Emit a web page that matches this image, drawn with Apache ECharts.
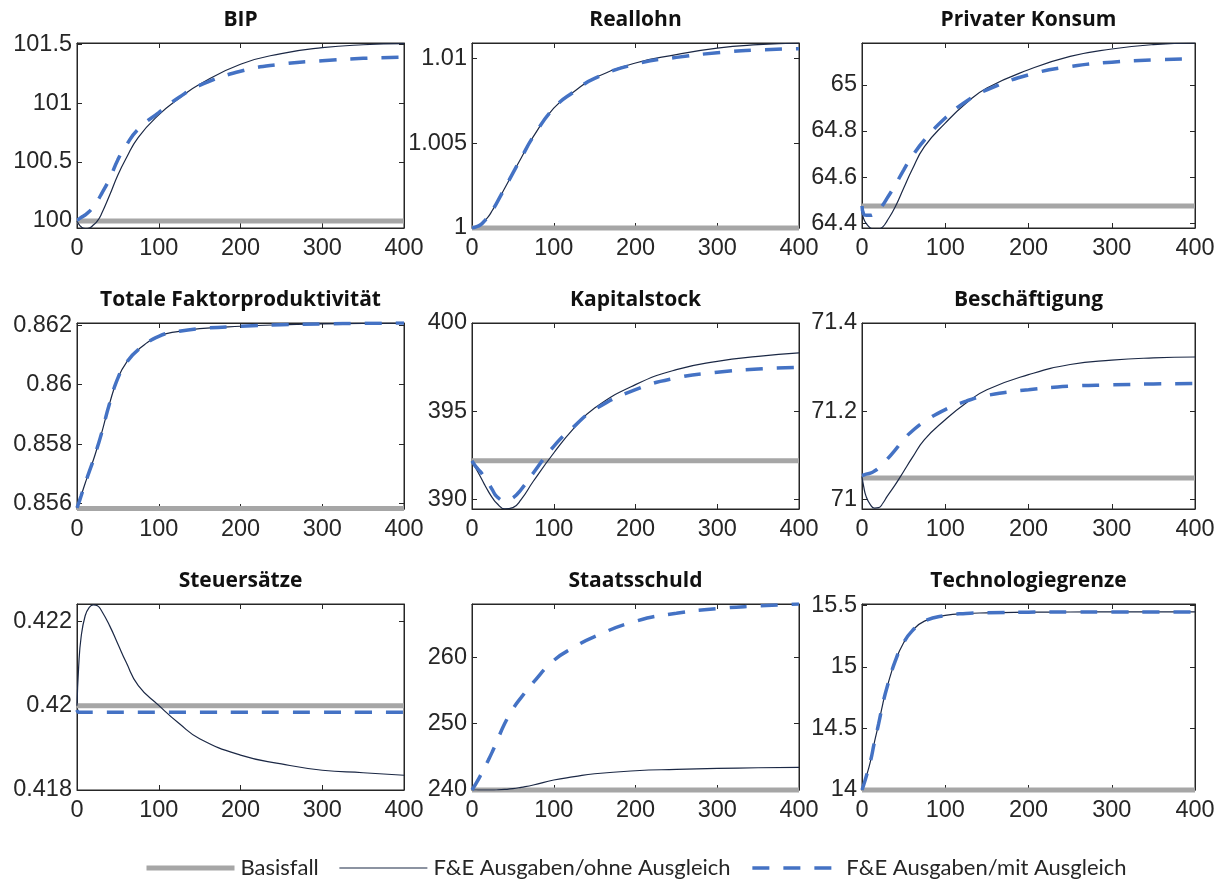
<!DOCTYPE html>
<html>
<head>
<meta charset="utf-8">
<title>F&amp;E Ausgaben – Simulationsergebnisse</title>
<script src="https://cdn.jsdelivr.net/npm/echarts@6/dist/echarts.min.js"></script>
<style>
  html, body { margin: 0; padding: 0; background: #fff; }
  #chart { width: 1223px; height: 882px; }
</style>
</head>
<body>
<div id="chart"></div>
<script>
// Periods (x axis) shared by all panels
const T = [0, 2, 5, 10, 15, 20, 25, 30, 40, 50, 60, 75, 100, 125, 150, 200, 250, 300, 350, 400];
const xTicks = [0, 100, 200, 300, 400];

const seriesNames = ['Basisfall', 'F&E Ausgaben/ohne Ausgleich', 'F&E Ausgaben/mit Ausgleich'];

// BIP
const bipBasis = 100.0;
const bipOhne = [100.0, 99.975, 99.95, 99.935, 99.94, 99.965, 100.0, 100.06, 100.22, 100.39, 100.53, 100.71, 100.90, 101.04, 101.16, 101.33, 101.42, 101.47, 101.495, 101.505];
const bipMit  = [100.01, 100.015, 100.03, 100.05, 100.08, 100.12, 100.17, 100.23, 100.36, 100.52, 100.64, 100.78, 100.92, 101.05, 101.15, 101.27, 101.33, 101.36, 101.38, 101.39];
const bipTicks = [100, 100.5, 101, 101.5];

// Reallohn
const lohnBasis = 1.0;
const lohnOhne = [1.0, 1.00002, 1.00006, 1.00018, 1.0004, 1.00067, 1.00105, 1.00146, 1.00235, 1.00324, 1.00412, 1.0054, 1.00708, 1.00807, 1.00886, 1.00975, 1.01024, 1.01063, 1.01083, 1.01093];
const lohnMit  = [1.0, 1.00002, 1.00006, 1.00018, 1.0004, 1.00067, 1.00105, 1.00146, 1.00235, 1.00324, 1.00412, 1.0054, 1.00708, 1.00806, 1.00884, 1.00968, 1.01008, 1.01035, 1.01052, 1.01059];
const lohnTicks = [1, 1.005, 1.01];

// Privater Konsum
const konsumBasis = 64.475;
const konsumOhne = [64.45, 64.42, 64.40, 64.38, 64.374, 64.376, 64.385, 64.41, 64.472, 64.552, 64.631, 64.732, 64.834, 64.92, 64.986, 65.065, 65.123, 65.155, 65.174, 65.181];
const konsumMit  = [64.475, 64.44, 64.435, 64.435, 64.443, 64.458, 64.48, 64.508, 64.566, 64.631, 64.689, 64.761, 64.856, 64.928, 64.978, 65.043, 65.079, 65.098, 65.108, 65.113];
const konsumTicks = [64.4, 64.6, 64.8, 65];

// Totale Faktorproduktivität
const tfpBasis = 0.85583;
const tfpOhne = [0.85585, 0.856, 0.85625, 0.85668, 0.85707, 0.85746, 0.8579, 0.85836, 0.85938, 0.86022, 0.86073, 0.86118, 0.86163, 0.8618, 0.86189, 0.86197, 0.86202, 0.86205, 0.86207, 0.86208];
const tfpMit  = [0.85585, 0.856, 0.85625, 0.85668, 0.85707, 0.85746, 0.8579, 0.85836, 0.85938, 0.86022, 0.86073, 0.86118, 0.86163, 0.8618, 0.86189, 0.86197, 0.86202, 0.86205, 0.86207, 0.86208];
const tfpTicks = [0.856, 0.858, 0.86, 0.862];

// Kapitalstock
const kapitalBasis = 392.2;
const kapitalOhne = [392.2, 392.0, 391.75, 391.32, 390.88, 390.47, 390.1, 389.81, 389.48, 389.55, 390.0, 391.04, 392.64, 394.06, 395.19, 396.51, 397.36, 397.83, 398.11, 398.31];
const kapitalMit  = [392.2, 392.05, 391.85, 391.6, 391.28, 390.94, 390.55, 390.19, 389.94, 390.1, 390.57, 391.51, 393.02, 394.15, 395.1, 396.23, 396.89, 397.21, 397.4, 397.49];
const kapitalTicks = [390, 395, 400];

// Beschäftigung
const beschBasis = 71.049;
const beschOhne = [71.053, 71.03, 71.007, 70.989, 70.981, 70.982, 70.992, 71.007, 71.034, 71.064, 71.094, 71.136, 71.181, 71.219, 71.249, 71.283, 71.306, 71.316, 71.321, 71.323];
const beschMit  = [71.055, 71.056, 71.058, 71.06, 71.065, 71.072, 71.081, 71.091, 71.113, 71.136, 71.155, 71.177, 71.204, 71.223, 71.236, 71.249, 71.257, 71.26, 71.262, 71.263];
const beschTicks = [71, 71.2, 71.4];

// Steuersätze
const steuerBasis = 0.42;
const steuerOhne = [0.42, 0.42092, 0.42163, 0.42214, 0.42234, 0.4224, 0.42238, 0.42226, 0.4219, 0.42147, 0.42104, 0.42048, 0.42001, 0.41958, 0.41922, 0.41883, 0.41862, 0.41847, 0.41841, 0.41835];
const steuerMit  = [0.4199, 0.41985, 0.41985, 0.41985, 0.41985, 0.41985, 0.41985, 0.41985, 0.41985, 0.41985, 0.41985, 0.41985, 0.41985, 0.41985, 0.41985, 0.41985, 0.41985, 0.41985, 0.41985, 0.41985];
const steuerTicks = [0.418, 0.42, 0.422];

// Staatsschuld
const schuldBasis = 240;
const schuldOhne = [240, 240, 240, 239.98, 239.97, 239.97, 239.98, 240.0, 240.08, 240.2, 240.4, 240.75, 241.5, 242.0, 242.45, 242.9, 243.1, 243.25, 243.35, 243.42];
const schuldMit  = [240, 240.4, 241.0, 242.1, 243.3, 244.5, 245.8, 247.2, 250.0, 252.2, 253.9, 256.2, 259.5, 261.5, 263.1, 265.4, 266.6, 267.3, 267.7, 268.0];
const schuldTicks = [240, 250, 260];

// Technologiegrenze
const techBasis = 14.0;
const techOhne = [14.0, 14.04, 14.107, 14.228, 14.39, 14.538, 14.7, 14.833, 15.048, 15.196, 15.29, 15.371, 15.417, 15.433, 15.438, 15.444, 15.445, 15.446, 15.446, 15.446];
const techMit  = [14.0, 14.04, 14.107, 14.228, 14.39, 14.538, 14.7, 14.833, 15.048, 15.196, 15.29, 15.371, 15.417, 15.433, 15.438, 15.444, 15.445, 15.446, 15.446, 15.446];
const techTicks = [14, 14.5, 15, 15.5];

// Panel definitions (title, data and value-axis range)
const panels = [
  { title: 'BIP', basis: bipBasis, ohne: bipOhne, mit: bipMit, ticks: bipTicks, min: 99.94, max: 101.51 },
  { title: 'Reallohn', basis: lohnBasis, ohne: lohnOhne, mit: lohnMit, ticks: lohnTicks, min: 1.0, max: 1.01093 },
  { title: 'Privater Konsum', basis: konsumBasis, ohne: konsumOhne, mit: konsumMit, ticks: konsumTicks, min: 64.38, max: 65.181 },
  { title: 'Totale Faktorproduktivität', basis: tfpBasis, ohne: tfpOhne, mit: tfpMit, ticks: tfpTicks, min: 0.85581, max: 0.86208 },
  { title: 'Kapitalstock', basis: kapitalBasis, ohne: kapitalOhne, mit: kapitalMit, ticks: kapitalTicks, min: 389.47, max: 400 },
  { title: 'Beschäftigung', basis: beschBasis, ohne: beschOhne, mit: beschMit, ticks: beschTicks, min: 70.979, max: 71.4 },
  { title: 'Steuersätze', basis: steuerBasis, ohne: steuerOhne, mit: steuerMit, ticks: steuerTicks, min: 0.418, max: 0.42242 },
  { title: 'Staatsschuld', basis: schuldBasis, ohne: schuldOhne, mit: schuldMit, ticks: schuldTicks, min: 240, max: 268 },
  { title: 'Technologiegrenze', basis: techBasis, ohne: techOhne, mit: techMit, ticks: techTicks, min: 14, max: 15.51 }
];

// 3 x 3 layout of the plot boxes
const cols = [{ left: 77, width: 327 }, { left: 472, width: 327 }, { left: 862, width: 333 }];
const rows = [{ top: 43, height: 185 }, { top: 323, height: 186 }, { top: 604, height: 186 }];

const INK = '#262626';
const AXIS_FONT = { color: INK, fontSize: 23.5, fontFamily: '"Liberation Sans", Arial, sans-serif' };
const TITLE_FONT = '"Open Sans", "Noto Sans", sans-serif';
const LEGEND_FONT = 'Lato, "Open Sans", sans-serif';

const fmt = v => String(parseFloat(Number(v).toFixed(6)));

function xAxisCfg(gi, position, labels) {
  return {
    type: 'value', gridIndex: gi, position: position,
    min: 0, max: 400, interval: 100,
    axisLine: { show: true, onZero: false, lineStyle: { color: INK, width: 1 } },
    axisTick: { show: true, inside: true, length: 5, lineStyle: { color: INK } },
    axisLabel: Object.assign({ show: labels, margin: 9, formatter: fmt }, AXIS_FONT),
    splitLine: { show: false }
  };
}

function yAxisCfg(gi, p, position, labels) {
  return {
    type: 'value', gridIndex: gi, position: position,
    min: p.min, max: p.max,
    axisLine: { show: true, onZero: false, lineStyle: { color: INK, width: 1 } },
    axisTick: { show: true, inside: true, length: 5, lineStyle: { color: INK }, customValues: p.ticks },
    axisLabel: Object.assign({ show: labels, margin: 5, customValues: p.ticks, formatter: fmt }, AXIS_FONT),
    splitLine: { show: false }
  };
}

const option = {
  animation: false,
  backgroundColor: '#ffffff',
  title: [], grid: [], xAxis: [], yAxis: [], series: [],
  legend: {
    left: 144, top: 857, padding: 0,
    itemWidth: 88, itemHeight: 14, itemGap: 20,
    data: seriesNames,
    itemStyle: { opacity: 0 },
    lineStyle: { width: 'inherit' },
    textStyle: { fontFamily: LEGEND_FONT, fontSize: 22, color: INK, padding: [0, 0, 0, 1] }
  }
};

panels.forEach((p, i) => {
  const c = cols[i % 3];
  const r = rows[Math.floor(i / 3)];
  option.title.push({
    text: p.title,
    left: c.left + c.width / 2, top: r.top - 33,
    textAlign: 'center', padding: 0,
    textStyle: { fontFamily: TITLE_FONT, fontWeight: 'bold', fontSize: 21, color: '#111' }
  });
  option.grid.push({
    left: c.left, top: r.top, width: c.width, height: r.height,
    show: true, borderColor: INK, borderWidth: 1, backgroundColor: '#fff'
  });
  option.xAxis.push(xAxisCfg(i, 'bottom', true), xAxisCfg(i, 'top', false));
  option.yAxis.push(yAxisCfg(i, p, 'left', true), yAxisCfg(i, p, 'right', false));

  const ax = { xAxisIndex: 2 * i, yAxisIndex: 2 * i };
  option.series.push(Object.assign({
    type: 'line', name: seriesNames[0],
    data: [[0, p.basis], [400, p.basis]],
    symbol: 'none', clip: false, z: 2,
    lineStyle: { color: '#a6a6a6', width: 5 }, itemStyle: { color: '#a6a6a6' }
  }, ax));
  option.series.push(Object.assign({
    type: 'line', name: seriesNames[1],
    data: T.map((t, k) => [t, p.ohne[k]]),
    symbol: 'none', smooth: 0.5, z: 3,
    lineStyle: { color: '#1b2845', width: 1.2 }, itemStyle: { color: '#1b2845' }
  }, ax));
  option.series.push(Object.assign({
    type: 'line', name: seriesNames[2],
    data: T.map((t, k) => [t, p.mit[k]]),
    symbol: 'none', smooth: 0.5, z: 4,
    lineStyle: { color: '#4472c4', width: 3.5, type: [17, 14] }, itemStyle: { color: '#4472c4' }
  }, ax));
});

const chart = echarts.init(document.getElementById('chart'), null, { renderer: 'canvas' });
chart.setOption(option);
</script>
</body>
</html>
